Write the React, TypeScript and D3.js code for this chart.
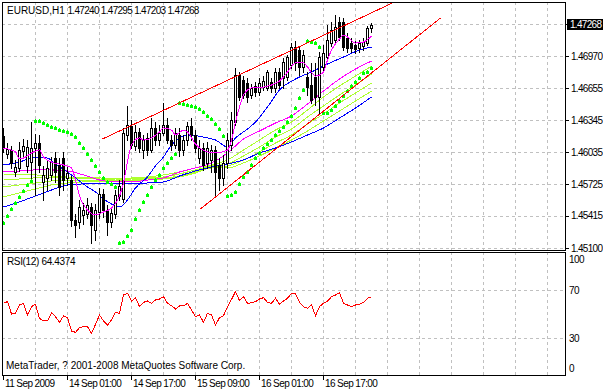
import * as d3 from "d3";

// EURUSD H1 candles, one per hour (index 0 = first bar on the left)
const candleOpen = [
  1.46192, 1.46017, 1.46056, 1.45842, 1.45881, 1.46046, 1.45901, 1.45939, 1.46075, 1.46124,
  1.45745, 1.45784, 1.45813, 1.45978, 1.4591, 1.45978, 1.45784, 1.45764, 1.45376, 1.45356,
  1.45424, 1.45434, 1.45502, 1.45278, 1.45453, 1.45628, 1.45473, 1.45356, 1.45434, 1.45609,
  1.4558, 1.46202, 1.46289, 1.46095, 1.46231, 1.46056, 1.46173, 1.46056, 1.4627, 1.46153,
  1.46221, 1.46299, 1.46153, 1.46105, 1.46202, 1.46056, 1.46153, 1.46289, 1.46202, 1.45978,
  1.46075, 1.4593, 1.45959, 1.46056, 1.4591, 1.45784, 1.4593, 1.46105, 1.46328, 1.46785,
  1.46736, 1.46707, 1.46591, 1.46678, 1.4662, 1.46668, 1.46659, 1.46717, 1.46659, 1.46814,
  1.46756, 1.46766, 1.46882, 1.47057, 1.47028, 1.46863, 1.46766, 1.46688, 1.46766, 1.46571,
  1.46863, 1.4696, 1.47096, 1.47125, 1.473, 1.473, 1.47145, 1.47096, 1.47077, 1.47047,
  1.47067, 1.47096, 1.4724,
];
const candleHigh = [
  1.4627, 1.46124, 1.46095, 1.45959, 1.46134, 1.46163, 1.46153, 1.46328, 1.46212, 1.46202,
  1.45901, 1.45959, 1.45988, 1.46037, 1.45978, 1.46037, 1.45901, 1.45803, 1.45434, 1.4557,
  1.45541, 1.45589, 1.45541, 1.45531, 1.45687, 1.45677, 1.45521, 1.45492, 1.45667, 1.45764,
  1.4627, 1.46484, 1.46348, 1.46299, 1.4627, 1.46202, 1.46221, 1.46367, 1.46328, 1.46299,
  1.46513, 1.46367, 1.46202, 1.4627, 1.4627, 1.46202, 1.46328, 1.46367, 1.4625, 1.46153,
  1.46124, 1.46134, 1.46105, 1.46095, 1.45978, 1.46007, 1.46221, 1.46425, 1.46853, 1.46814,
  1.46775, 1.46756, 1.46698, 1.46717, 1.46756, 1.46775, 1.46834, 1.46756, 1.46853, 1.46853,
  1.4695, 1.46979, 1.47096, 1.47116, 1.47067, 1.47028, 1.46814, 1.46902, 1.46902, 1.47009,
  1.47077, 1.47271, 1.473, 1.47368, 1.47349, 1.47339, 1.47193, 1.47145, 1.47116, 1.47125,
  1.47145, 1.47261, 1.47295,
];
const candleLow = [
  1.46037, 1.45978, 1.45881, 1.45803, 1.45852, 1.45978, 1.45842, 1.45784, 1.45619, 1.45842,
  1.4557, 1.45667, 1.45764, 1.45745, 1.45619, 1.45667, 1.45716, 1.45317, 1.4521, 1.45298,
  1.45337, 1.45395, 1.45152, 1.45181, 1.45395, 1.45405, 1.4523, 1.45308, 1.45395, 1.4557,
  1.45551, 1.46153, 1.46075, 1.46056, 1.46037, 1.45978, 1.46007, 1.46037, 1.46105, 1.46105,
  1.46202, 1.46124, 1.46056, 1.46075, 1.45998, 1.46007, 1.46105, 1.46153, 1.46037, 1.4593,
  1.45862, 1.45881, 1.45842, 1.45609, 1.45667, 1.45716, 1.45881, 1.46056, 1.46299, 1.46542,
  1.46561, 1.46523, 1.46561, 1.46581, 1.46591, 1.46639, 1.46639, 1.4662, 1.4662, 1.46659,
  1.46659, 1.46736, 1.46853, 1.46834, 1.46785, 1.46814, 1.46591, 1.46513, 1.46493, 1.46416,
  1.46814, 1.46931, 1.47067, 1.47096, 1.47125, 1.47028, 1.47009, 1.47009, 1.46999, 1.47009,
  1.47028, 1.47077, 1.47203,
];
const candleClose = [
  1.46085, 1.46066, 1.4593, 1.45891, 1.46056, 1.46095, 1.46085, 1.46075, 1.46124, 1.4591,
  1.45813, 1.45881, 1.45939, 1.45842, 1.45696, 1.45764, 1.45832, 1.45376, 1.45327, 1.45502,
  1.45473, 1.45521, 1.45327, 1.45473, 1.45628, 1.45473, 1.45356, 1.45444, 1.45619, 1.45706,
  1.46221, 1.46299, 1.46105, 1.46231, 1.46075, 1.46153, 1.46056, 1.4627, 1.46153, 1.46221,
  1.46299, 1.46153, 1.46105, 1.46221, 1.46056, 1.46153, 1.46289, 1.46202, 1.46075, 1.46075,
  1.4591, 1.46075, 1.46056, 1.45842, 1.45784, 1.4593, 1.46153, 1.46348, 1.46785, 1.46571,
  1.46591, 1.46571, 1.46659, 1.4662, 1.46707, 1.46727, 1.46814, 1.46659, 1.46814, 1.46688,
  1.46911, 1.4696, 1.47057, 1.46902, 1.46863, 1.46979, 1.46668, 1.46542, 1.46571, 1.4696,
  1.46999, 1.47125, 1.47222, 1.47252, 1.47154, 1.47057, 1.47047, 1.47047, 1.47038, 1.47096,
  1.47106, 1.47242, 1.47268,
];

// Parabolic SAR, one value per bar
const sarValues = [
  1.45346, 1.45415, 1.45483, 1.45541, 1.45599, 1.45658, 1.45716, 1.45755, 1.46338, 1.46338,
  1.46318, 1.46299, 1.4628, 1.4627, 1.4625, 1.46241, 1.46231, 1.46212, 1.46182, 1.46124,
  1.46075, 1.46017, 1.45959, 1.45901, 1.45842, 1.45784, 1.45745, 1.45726, 1.45696, 1.45152,
  1.45162, 1.4522, 1.45278, 1.45385, 1.45473, 1.45551, 1.45619, 1.45696, 1.45764, 1.45813,
  1.45881, 1.4593, 1.45978, 1.46017, 1.46513, 1.46503, 1.46493, 1.46484, 1.46474, 1.46455,
  1.46425, 1.46387, 1.46357, 1.46309, 1.4626, 1.46192, 1.45609, 1.45619, 1.45648, 1.45726,
  1.45794, 1.45842, 1.4591, 1.45978, 1.46027, 1.46075, 1.46114, 1.46153, 1.46202, 1.46241,
  1.4628, 1.46328, 1.46387, 1.46464, 1.46561, 1.46639, 1.47116, 1.47106, 1.47096, 1.47057,
  1.46416, 1.46416, 1.46445, 1.46484, 1.46532, 1.46581, 1.46629, 1.46678, 1.46717, 1.46756,
  1.46804, 1.46814, 1.46853,
];

// RSI(12), one value per bar
const rsiValues = [
  58.9, 60.3, 50.0, 50.6, 57.5, 58.9, 49.2, 56.1, 58.1, 46.4,
  44.2, 44.2, 51.1, 47.8, 43.1, 48.3, 46.9, 35.8, 34.7, 38.6,
  39.4, 39.4, 33.9, 41.4, 49.2, 44.2, 40.8, 45.0, 51.4, 50.6,
  65.8, 67.2, 60.8, 63.6, 56.1, 59.7, 60.8, 58.9, 61.7, 62.5,
  64.4, 58.9, 56.9, 54.2, 56.7, 56.7, 58.9, 53.3, 47.8, 49.2,
  43.1, 50.6, 49.2, 40.8, 46.9, 48.6, 56.1, 62.2, 68.6, 61.1,
  64.4, 58.9, 59.4, 60.3, 62.5, 63.6, 59.7, 58.9, 63.1, 58.1,
  60.8, 63.1, 67.2, 66.7, 59.7, 56.1, 54.7, 57.5, 48.6, 56.1,
  58.9, 60.8, 64.4, 65.8, 67.8, 58.9, 57.5, 56.1, 57.5, 58.1,
  59.7, 63.1, 64.4374,
];

// fast magenta MA, read at these bars
const fastMaIdx = [
  0, 3, 4, 5, 7, 9, 10, 12, 15, 17, 18, 19, 21, 23, 25, 27, 29, 30, 31, 32,
  34, 35, 37, 39, 40, 42, 43, 45, 46, 48, 51, 53, 56, 57, 58, 59, 60, 62, 65, 67,
  69, 71, 73, 75, 76, 78, 80, 81, 82, 84, 85, 86, 88, 90, 92,
];
const fastMaValues = [
  1.46075, 1.46037, 1.45969, 1.45978, 1.46027, 1.46056, 1.45988, 1.45939, 1.4591, 1.45881,
  1.45764, 1.45609, 1.45473, 1.45424, 1.45453, 1.45492, 1.45609, 1.45735, 1.45939, 1.46105,
  1.46173, 1.46153, 1.46173, 1.46231, 1.4627, 1.4625, 1.46202, 1.4625, 1.46231, 1.46114,
  1.46037, 1.46027, 1.46056, 1.46153, 1.46328, 1.46474, 1.46591, 1.46659, 1.46668, 1.46688,
  1.46727, 1.46814, 1.46902, 1.46902, 1.46863, 1.46775, 1.46814, 1.46931, 1.47028, 1.47135,
  1.47174, 1.47154, 1.47096, 1.47106, 1.47164,
];

// blue MA
const midMaIdx = [
  0, 4, 8, 11, 13, 16, 19, 21, 23, 25, 27, 29, 31, 33, 36, 38, 40, 42, 44, 46,
  50, 53, 56, 58, 61, 63, 66, 69, 73, 77, 81, 85, 89, 92,
];
const midMaValues = [
  1.4591, 1.45939, 1.45988, 1.45978, 1.4592, 1.45842, 1.45755, 1.45696, 1.45648, 1.4558,
  1.45531, 1.45502, 1.4557, 1.45687, 1.45794, 1.45901, 1.45988, 1.46105, 1.46173, 1.46202,
  1.46182, 1.46153, 1.46085, 1.46173, 1.4626, 1.46328, 1.46474, 1.46639, 1.46746, 1.46814,
  1.46892, 1.4696, 1.47028, 1.47057,
];

// slow ribbon, every 4th bar
const slowIdx = [0, 4, 8, 12, 16, 20, 24, 28, 32, 36, 40, 44, 48, 52, 56, 60, 64, 68, 72, 76, 80, 84, 88, 92];
const slowMagenta = [
  1.45842, 1.45852, 1.45862, 1.45862, 1.45852, 1.45813, 1.45764, 1.45745, 1.45745, 1.45764,
  1.45784, 1.45842, 1.45881, 1.4593, 1.46027, 1.46163, 1.46241, 1.46318, 1.46387, 1.46503,
  1.46629, 1.46746, 1.46843, 1.46921,
];
const limeA = [
  1.45813, 1.45813, 1.45813, 1.45803, 1.45794, 1.45784, 1.45784, 1.45774, 1.45784, 1.45794,
  1.45813, 1.45842, 1.45881, 1.4591, 1.45959, 1.46056, 1.46153, 1.4625, 1.46328, 1.46445,
  1.46571, 1.46678, 1.46775, 1.46872,
];
const limeB = [
  1.45764, 1.45774, 1.45784, 1.45784, 1.45784, 1.45774, 1.45774, 1.45764, 1.45774, 1.45784,
  1.45794, 1.45823, 1.45862, 1.45901, 1.4592, 1.45998, 1.46085, 1.46182, 1.4626, 1.46377,
  1.46484, 1.46591, 1.46688, 1.46795,
];
const limeC = [
  1.45696, 1.45716, 1.45735, 1.45755, 1.45764, 1.45764, 1.45764, 1.45755, 1.45764, 1.45774,
  1.45784, 1.45803, 1.45842, 1.45891, 1.45901, 1.45959, 1.46037, 1.46124, 1.46202, 1.46309,
  1.46406, 1.46513, 1.4661, 1.46707,
];
const limeD = [
  1.45599, 1.45638, 1.45677, 1.45716, 1.45735, 1.45745, 1.45745, 1.45745, 1.45755, 1.45764,
  1.45774, 1.45794, 1.45832, 1.45881, 1.45881, 1.4593, 1.45998, 1.46075, 1.46153, 1.46241,
  1.46338, 1.46435, 1.46532, 1.46629,
];
const slowBlue = [
  1.45502, 1.45551, 1.45609, 1.45667, 1.45716, 1.45726, 1.45726, 1.45726, 1.45726, 1.45735,
  1.45745, 1.45803, 1.45852, 1.45891, 1.4592, 1.45959, 1.46027, 1.46075, 1.46134, 1.46202,
  1.4627, 1.46367, 1.46464, 1.46571,
];

// trend lines: [bar, price] end points
const upperTrend: [number, number][] = [[24.75, 1.46163], [97.75, 1.47495]];
const lowerTrend: [number, number][] = [[49.25, 1.45483], [109.25, 1.47339]];

const priceTicks = [1.4728, 1.4697, 1.46655, 1.46345, 1.46035, 1.45725, 1.45415, 1.451];
const rsiTicks = [100, 70, 30, 0];
const rsiGridLevels = [70, 30];
const timeIdx = [0, 16, 32, 48, 64, 80];
const timeLabels = ["11 Sep 2009", "14 Sep 01:00", "14 Sep 17:00", "15 Sep 09:00", "16 Sep 01:00", "16 Sep 17:00"];

const W = 603;
const H = 392;
const LEFT = 2;
const RIGHT = 565;
const MAIN_TOP = 2;
const MAIN_BOTTOM = 250;
const RSI_TOP = 252;
const RSI_BOTTOM = 375;
const FONT = "'Liberation Sans', Arial, sans-serif";
const GRID = "#c0c0c0";

const x = d3.scaleLinear().domain([0, 140.5]).range([3, 565]);
const y = d3.scaleLinear().domain([1.451, 1.4697]).range([248.3, 56]);
const yr = d3.scaleLinear().domain([0, 100]).range([374, 254]);

const snap = (v: number) => Math.round(v) + 0.5;

const priceLine = d3
  .line<[number, number]>()
  .x((d) => x(d[0]) + 0.5)
  .y((d) => y(d[1]))
  .curve(d3.curveMonotoneX);

const straight = d3
  .line<[number, number]>()
  .x((d) => x(d[0]) + 0.5)
  .y((d) => y(d[1]));

const rsiLine = d3
  .line<number>()
  .x((d, i) => x(i) + 0.5)
  .y((d) => yr(d));

const pairs = (idx: number[], vals: number[]) => d3.zip(idx, vals) as [number, number][];

export default function App() {
  const bars = candleOpen.map((o, i) => ({
    i,
    o,
    h: candleHigh[i],
    l: candleLow[i],
    c: candleClose[i],
  }));
  const last = bars[bars.length - 1];
  const vGrid = d3.range(8, 141, 8);

  const slowLines = [
    { vals: limeD, color: "#adff2f" },
    { vals: limeC, color: "#adff2f" },
    { vals: limeB, color: "#adff2f" },
    { vals: limeA, color: "#adff2f" },
    { vals: slowBlue, color: "#0000ff" },
    { vals: slowMagenta, color: "#ff00ff" },
  ];

  return (
    <svg
      width={W}
      height={H}
      style={{ position: "absolute", left: 0, top: 0, background: "#fff" }}
      fontFamily={FONT}
    >
      <defs>
        <clipPath id="mainClip">
          <rect x={LEFT + 1} y={MAIN_TOP + 1} width={RIGHT - LEFT - 1} height={MAIN_BOTTOM - MAIN_TOP - 1} />
        </clipPath>
        <clipPath id="rsiClip">
          <rect x={LEFT + 1} y={RSI_TOP + 1} width={RIGHT - LEFT - 1} height={RSI_BOTTOM - RSI_TOP - 1} />
        </clipPath>
      </defs>
      <rect x={0} y={0} width={W} height={H} fill="#fff" />

      {/* grid */}
      <g stroke={GRID} strokeDasharray="3,3" shapeRendering="crispEdges">
        {priceTicks.map((t) => (
          <line key={"hp" + t} x1={LEFT} x2={RIGHT} y1={snap(y(t))} y2={snap(y(t))} />
        ))}
        {rsiGridLevels.map((t) => (
          <line key={"hr" + t} x1={LEFT} x2={RIGHT} y1={snap(yr(t))} y2={snap(yr(t))} />
        ))}
        {vGrid.map((b) => (
          <g key={"v" + b}>
            <line x1={snap(x(b))} x2={snap(x(b))} y1={MAIN_TOP} y2={MAIN_BOTTOM} />
            <line x1={snap(x(b))} x2={snap(x(b))} y1={RSI_TOP} y2={RSI_BOTTOM} />
          </g>
        ))}
      </g>

      <g clipPath="url(#mainClip)">
        {/* slow ribbon */}
        <g fill="none" strokeWidth={1} shapeRendering="crispEdges">
          {slowLines.map((s, k) => (
            <path key={"s" + k} d={priceLine(pairs(slowIdx, s.vals)) || ""} stroke={s.color} />
          ))}
          <path d={priceLine(pairs(midMaIdx, midMaValues)) || ""} stroke="#0000ff" />
        </g>

        {/* candles */}
        <g shapeRendering="crispEdges">
          {bars.map((b) => {
            const cx = Math.round(x(b.i));
            const yo = Math.round(y(b.o));
            const yc = Math.round(y(b.c));
            const top = Math.min(yo, yc);
            const bot = Math.max(yo, yc);
            const bull = b.c >= b.o;
            return (
              <g key={"c" + b.i}>
                <line
                  x1={cx + 0.5}
                  x2={cx + 0.5}
                  y1={Math.round(y(b.h))}
                  y2={Math.round(y(b.l)) + 1}
                  stroke="#000"
                />
                <rect
                  x={cx - 0.5}
                  y={top + 0.5}
                  width={2}
                  height={Math.max(bot - top, 0)}
                  fill={bull ? "#fff" : "#000"}
                  stroke="#000"
                />
              </g>
            );
          })}
        </g>

        <path
          d={priceLine(pairs(fastMaIdx, fastMaValues)) || ""}
          fill="none"
          stroke="#ff00ff"
          strokeWidth={1}
          shapeRendering="crispEdges"
        />

        {/* parabolic SAR */}
        <g fill="#00ff00" shapeRendering="crispEdges">
          {sarValues.map((v, i) => (
            <g key={"p" + i}>
              <rect x={Math.round(x(i)) - 1} y={Math.round(y(v)) - 1} width={3} height={3} />
              <rect x={Math.round(x(i))} y={Math.round(y(v)) - 2} width={1} height={1} />
            </g>
          ))}
        </g>

        {/* trend lines */}
        <g fill="none" stroke="#ff0000" strokeWidth={1} shapeRendering="crispEdges">
          <path d={straight(upperTrend) || ""} />
          <path d={straight(lowerTrend) || ""} />
        </g>
      </g>

      {/* RSI */}
      <g clipPath="url(#rsiClip)">
        <path d={rsiLine(rsiValues) || ""} fill="none" stroke="#ff0000" strokeWidth={1} shapeRendering="crispEdges" />
      </g>

      {/* frames */}
      <g fill="none" stroke="#000" shapeRendering="crispEdges">
        <rect x={LEFT + 0.5} y={MAIN_TOP + 0.5} width={RIGHT - LEFT} height={MAIN_BOTTOM - MAIN_TOP} />
        <rect x={LEFT + 0.5} y={RSI_TOP + 0.5} width={RIGHT - LEFT} height={RSI_BOTTOM - RSI_TOP} />
      </g>

      {/* price axis */}
      <g fontSize={10} letterSpacing={-0.7} fill="#000">
        {priceTicks.map((t) => (
          <g key={"pt" + t}>
            <line x1={RIGHT + 1} x2={RIGHT + 4} y1={snap(y(t))} y2={snap(y(t))} stroke="#000" shapeRendering="crispEdges" />
            {t !== priceTicks[0] && (
              <text x={571} y={y(t) + 3.5}>
                {t.toFixed(5)}
              </text>
            )}
          </g>
        ))}
        <rect x={RIGHT + 2} y={Math.round(y(last.c)) - 6} width={W - RIGHT - 2} height={11} fill="#000" />
        <text x={570} y={Math.round(y(last.c)) + 3} fill="#fff">
          {last.c.toFixed(5)}
        </text>
      </g>

      {/* RSI axis */}
      <g fontSize={10} letterSpacing={-0.6} fill="#000">
        {rsiTicks.map((t) => (
          <text key={"rt" + t} x={569} y={t === 100 ? yr(t) + 9 : t === 0 ? yr(t) - 2 : yr(t) + 3.5}>
            {t}
          </text>
        ))}
      </g>

      {/* time axis */}
      <g fontSize={10} letterSpacing={-0.6} fill="#000">
        {timeIdx.map((b, k) => (
          <g key={"tx" + b}>
            <line x1={snap(x(b))} x2={snap(x(b))} y1={RSI_BOTTOM + 1} y2={RSI_BOTTOM + 5} stroke="#000" shapeRendering="crispEdges" />
            <text x={x(b) + 2} y={387}>
              {timeLabels[k]}
            </text>
          </g>
        ))}
      </g>

      {/* titles */}
      <text x={7} y={14} fontSize={10} fill="#000">
        EURUSD,H1
      </text>
      <text x={67.5} y={14} fontSize={10} letterSpacing={-0.7} fill="#000">
        {[last.o, last.h, last.l, last.c].map((v) => v.toFixed(5)).join(" ")}
      </text>
      <text x={7} y={265} fontSize={10} letterSpacing={-0.35} fill="#000">
        {"RSI(12) " + rsiValues[rsiValues.length - 1].toFixed(4)}
      </text>
      <text x={6} y={369} fontSize={10} fill="#000">
        MetaTrader, ? 2001-2008 MetaQuotes Software Corp.
      </text>
    </svg>
  );
}
